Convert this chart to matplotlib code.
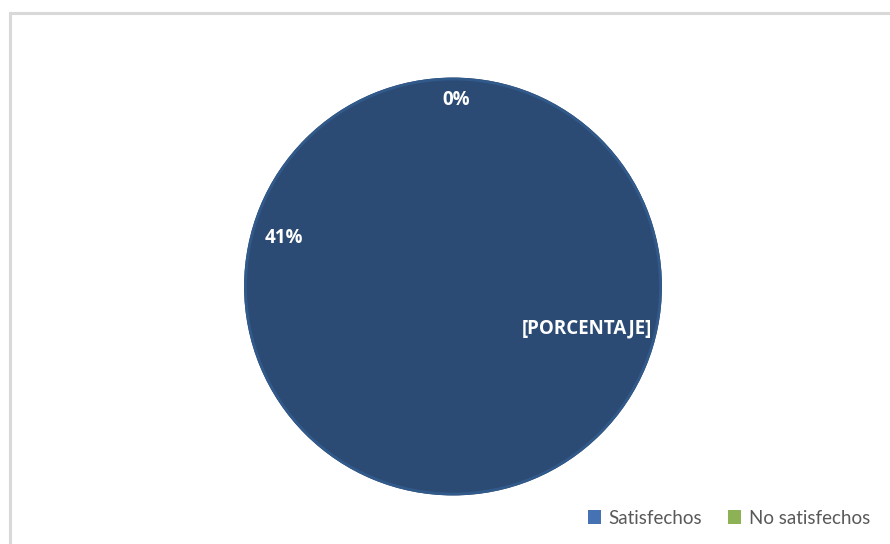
import numpy as np
import matplotlib.pyplot as plt
from matplotlib.lines import Line2D
from matplotlib.patches import Patch, Circle

# datos de la encuesta
categorias = ["Satisfechos", "No satisfechos"]
valores = [100, 0]
etiquetas = ["[PORCENTAJE]", "0%"]
etiqueta_extra = "41%"
colores_pie = ["#2B4B74", "#8DB255"]
colores_leyenda = ["#4672B4", "#8DB255"]

W, H = 890, 544
fig = plt.figure(figsize=(W / 100, H / 100), dpi=100)
fig.patch.set_facecolor("white")

# borde del area del grafico
borde = dict(color="#D9D9D9", lw=2.2, transform=fig.transFigure)
fig.add_artist(Line2D([10 / W, 10 / W], [1 - 13 / H, 0], **borde))
fig.add_artist(Line2D([10 / W, 1], [1 - 13 / H, 1 - 13 / H], **borde))

# eje centrado en el pastel
cx, cy, r = 453, 286.5, 210
ax = fig.add_axes([(cx - r) / W, 1 - (cy + r) / H, 2 * r / W, 2 * r / H])
ax.axis("off")

wedges, _ = ax.pie(valores, colors=colores_pie, startangle=90, counterclock=False,
                   radius=1, center=(0, 0), frame=False,
                   wedgeprops=dict(linewidth=0))
# contorno suave del pastel
ax.add_patch(Circle((0, 0), 0.993, fill=False, edgecolor="#31598A", lw=2.0))
ax.set_xlim(-1.005, 1.005)
ax.set_ylim(-1.005, 1.005)

txt = dict(color="white", fontsize=13.5, fontweight="bold", family=["Open Sans", "DejaVu Sans"],
           ha="center", va="center")
# posiciones de las etiquetas (radio, angulo)
posiciones = [(0.67, -17.5), (0.895, 89)]
for lab, (rr, ang) in zip(etiquetas, posiciones):
    a = np.deg2rad(ang)
    ax.text(rr * np.cos(a), rr * np.sin(a), lab, **txt)
a = np.deg2rad(164)
ax.text(0.84 * np.cos(a), 0.84 * np.sin(a), etiqueta_extra, **txt)

# leyenda
handles = [Patch(facecolor=c, edgecolor="none") for c in colores_leyenda]
fig.legend(handles, categorias, loc="center", bbox_to_anchor=(729 / W, 1 - 518 / H),
           ncol=2, frameon=False, handlelength=0.7, handleheight=0.7, handletextpad=0.4,
           columnspacing=1.4, prop=dict(family="Lato", size=13.5), labelcolor="#595959")

fig.savefig("out.png", dpi=100, facecolor="white")
